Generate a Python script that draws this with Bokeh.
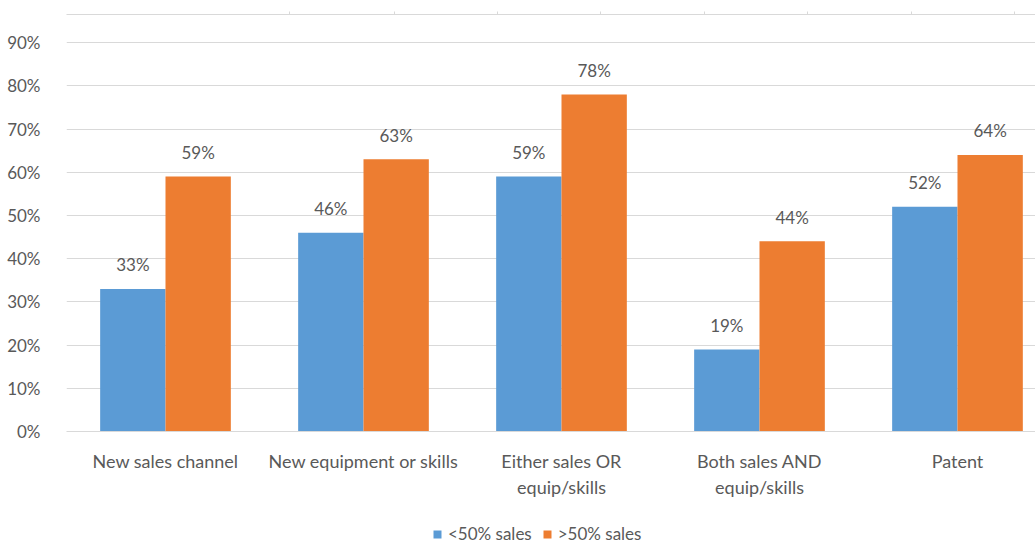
from bokeh.plotting import figure
from bokeh.layouts import column
from bokeh.models import (Range1d, FixedTicker, Legend, LegendItem, LinearAxis,
                          PrintfTickFormatter, CustomJSTickFormatter)
from bokeh.core.properties import value
from bokeh.embed import file_html
from bokeh.resources import INLINE

# ---- data -------------------------------------------------------------
categories = [
    "New sales channel",
    "New equipment or skills",
    "Either sales OR\nequip/skills",
    "Both sales AND\nequip/skills",
    "Patent",
]
below_half = [33, 46, 59, 19, 52]   # firms with <50% sales
above_half = [59, 63, 78, 44, 64]   # firms with >50% sales
series_names = ["<50% sales", ">50% sales"]
y_ticks = [0, 10, 20, 30, 40, 50, 60, 70, 80, 90]
edge_ticks = [289, 394, 497, 600, 704, 807, 911, 1014]

# ---- style ------------------------------------------------------------
FONT = "Lato"
TEXT = "#595959"
BLUE = "#5B9BD5"
ORANGE = "#ED7D31"
GRID = "#D9D9D9"
COLORS = [BLUE, ORANGE]

centers = [i + 0.5 for i in range(len(categories))]
bar_w = 0.33
x_blue = [c - bar_w / 2 for c in centers]
x_orange = [c + bar_w / 2 for c in centers]

p = figure(width=1035, height=510, output_backend="svg", toolbar_location=None,
           x_range=Range1d(0, 4.894), y_range=Range1d(0, 96.5),
           min_border_left=66, min_border_right=0, min_border_top=14,
           min_border_bottom=79)
p.outline_line_color = None

p.vbar(x=x_blue, top=below_half, width=bar_w, fill_color=BLUE, line_color=None)
p.vbar(x=x_orange, top=above_half, width=bar_w, fill_color=ORANGE, line_color=None)

# value labels above bars
for xs, vals in ((x_blue, below_half), (x_orange, above_half)):
    p.text(x=xs, y=vals, text=[f"{v}%" for v in vals], text_align="center",
           text_baseline="alphabetic", y_offset=-24,
           text_font=value(FONT), text_font_size="17px", text_color=TEXT)

# y axis
p.yaxis.ticker = FixedTicker(ticks=y_ticks)
p.yaxis.formatter = PrintfTickFormatter(format="%d%%")
p.yaxis.axis_line_color = None
p.yaxis.major_tick_line_color = None
p.yaxis.minor_tick_line_color = None
p.yaxis.major_label_standoff = 20
p.yaxis.major_label_text_font = FONT
p.yaxis.major_label_text_font_size = "17px"
p.yaxis.major_label_text_color = TEXT

# x axis
p.xaxis.ticker = FixedTicker(ticks=centers)
p.xaxis.major_label_overrides = {c: lab for c, lab in zip(centers, categories)}
p.xaxis.axis_line_color = GRID
p.xaxis.major_tick_line_color = None
p.xaxis.minor_tick_line_color = None
p.xaxis.major_label_standoff = 12
p.xaxis.major_label_text_font = FONT
p.xaxis.major_label_text_font_size = "18px"
p.xaxis.major_label_text_color = TEXT

p.xgrid.visible = False
p.ygrid.grid_line_color = GRID
p.ygrid.grid_line_width = 1

# thin rule along the top edge
p.extra_x_ranges = {"edge": Range1d(66, 1035)}
top = LinearAxis(x_range_name="edge", ticker=FixedTicker(ticks=edge_ticks),
                 formatter=CustomJSTickFormatter(code="return ''"),
                 axis_line_color=GRID, major_tick_line_color=GRID,
                 major_tick_in=0, major_tick_out=3,
                 minor_tick_line_color=None, major_label_standoff=0)
p.add_layout(top, "above")

# legend strip underneath the chart; swatch glyphs sit outside its view
leg = figure(width=1035, height=34, output_backend="svg", toolbar_location=None,
             x_range=Range1d(0, 1), y_range=Range1d(0, 1),
             min_border_left=0, min_border_right=0, min_border_top=0,
             min_border_bottom=0)
leg.axis.visible = False
leg.grid.visible = False
leg.outline_line_color = None
swatches = [leg.vbar(x=[-5], top=[-5], width=0.1, fill_color=c, line_color=None)
            for c in COLORS]
legend = Legend(items=[LegendItem(label=name, renderers=[r])
                       for name, r in zip(series_names, swatches)],
                orientation="horizontal", location=(366, 0),
                padding=0, margin=0, spacing=10,
                glyph_width=10, glyph_height=10, label_standoff=6,
                label_text_font=FONT, label_text_font_size="17px",
                label_text_color=TEXT, background_fill_alpha=0,
                border_line_color=None)
leg.add_layout(legend, "center")

layout = column(p, leg, spacing=0)
open("out.html", "w").write(file_html(layout, INLINE))
